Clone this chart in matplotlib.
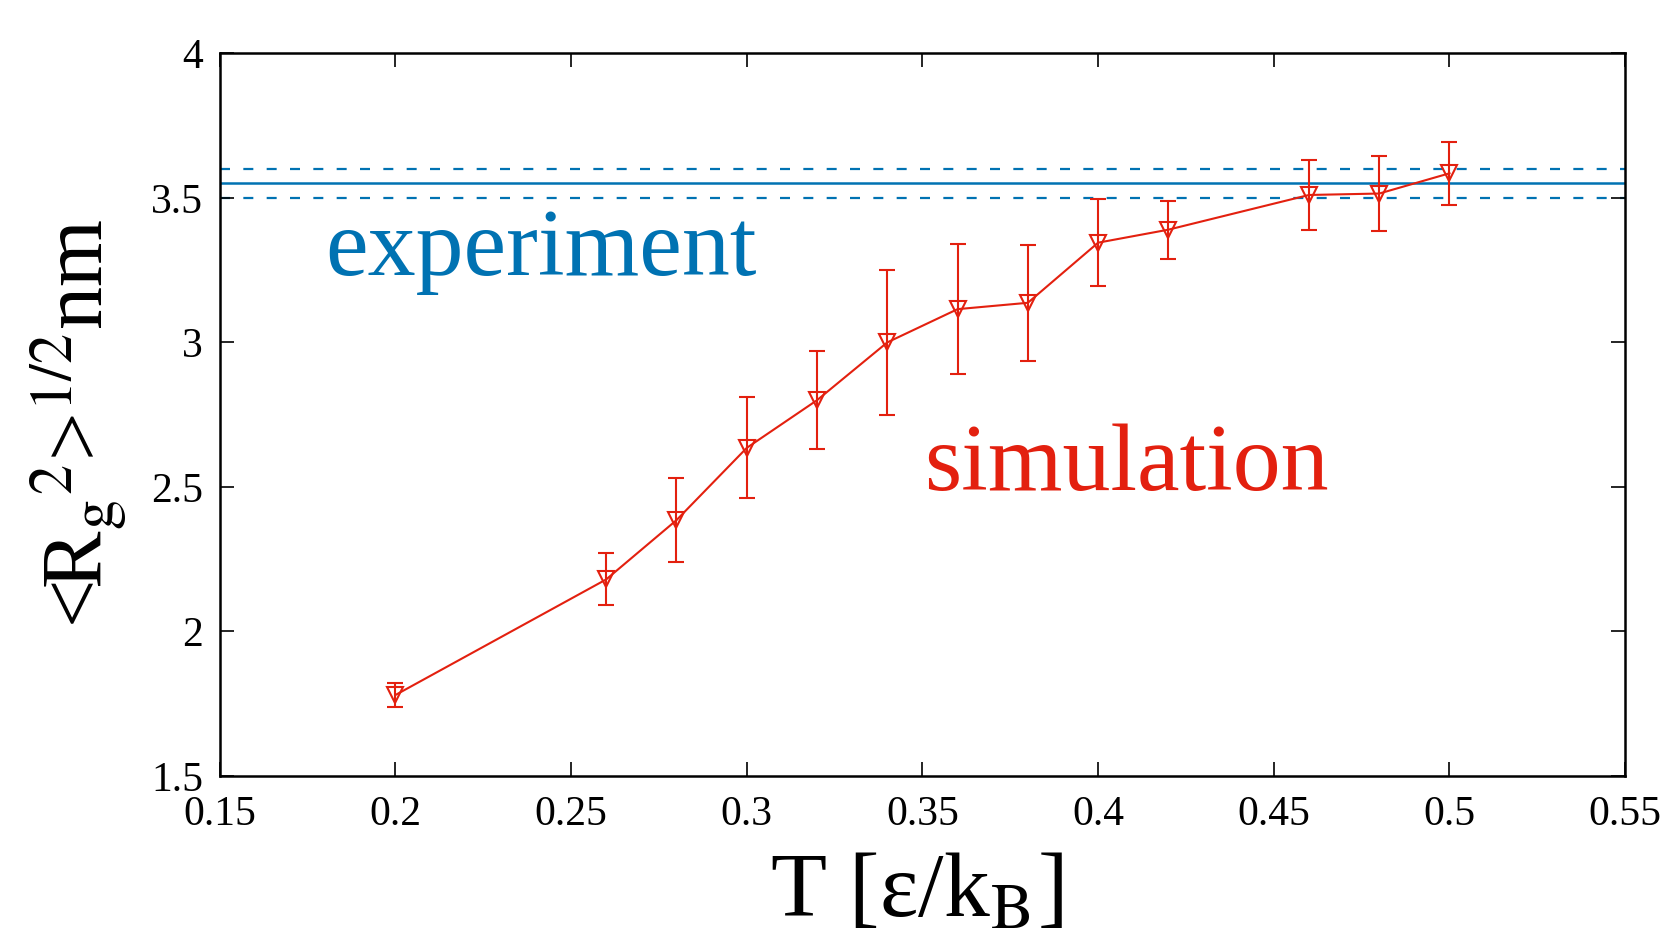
import matplotlib
matplotlib.use("Agg")
import matplotlib.pyplot as plt
from matplotlib.ticker import FixedLocator, FixedFormatter

# radius of gyration vs temperature, simulation against experiment
TEMPS = [0.20, 0.26, 0.28, 0.30, 0.32, 0.34, 0.36, 0.38, 0.40, 0.42, 0.46, 0.48, 0.50]
RG = [1.78, 2.18, 2.385, 2.635, 2.80, 3.00, 3.115, 3.137, 3.345, 3.39, 3.51, 3.515, 3.585]
RG_ERR = [0.04, 0.09, 0.145, 0.175, 0.17, 0.25, 0.225, 0.20, 0.15, 0.10, 0.12, 0.13, 0.11]
EXP_RG, EXP_ERR = 3.55, 0.05

XTICKS = [0.15, 0.2, 0.25, 0.3, 0.35, 0.4, 0.45, 0.5, 0.55]
XLABELS = ["0.15", "0.2", "0.25", "0.3", "0.35", "0.4", "0.45", "0.5", "0.55"]
YTICKS = [1.5, 2, 2.5, 3, 3.5, 4]
YLABELS = ["1.5", "2", "2.5", "3", "3.5", "4"]

RED = "#E3200F"
BLUE = "#0072B2"

plt.rcParams["font.family"] = ["Liberation Serif", "DejaVu Serif"]
plt.rcParams["mathtext.fontset"] = "stix"

fig = plt.figure(figsize=(16.72, 9.36), dpi=100)
ax = fig.add_axes([0.1314, 0.171, 0.8406, 0.772])

ax.axhline(EXP_RG, color=BLUE, lw=1.8, zorder=1)
for off in (-EXP_ERR, EXP_ERR):
    ax.axhline(EXP_RG + off, color=BLUE, lw=1.6, ls=(0, (4.5, 6)), zorder=1)

ax.errorbar(TEMPS, RG, yerr=RG_ERR, color=RED, lw=1.5, elinewidth=1.5,
            capsize=5.5, capthick=1.5, marker="v", markersize=12,
            markerfacecolor="none", markeredgecolor=RED, markeredgewidth=1.5,
            zorder=3)

ax.text(0.18, 3.232, "experiment", color=BLUE, fontsize=69)
ax.text(0.3504, 2.489, "simulation", color=RED, fontsize=69)

ax.set_xlim(0.15, 0.55)
ax.set_ylim(1.5, 4)
ax.xaxis.set_major_locator(FixedLocator(XTICKS))
ax.xaxis.set_major_formatter(FixedFormatter(XLABELS))
ax.yaxis.set_major_locator(FixedLocator(YTICKS))
ax.yaxis.set_major_formatter(FixedFormatter(YLABELS))
ax.tick_params(direction="in", length=10, width=1.2, labelsize=30,
               top=True, right=True)
ax.tick_params(axis="x", pad=14)
ax.tick_params(axis="y", pad=12)
for sp in ax.spines.values():
    sp.set_linewidth(1.8)

ax.set_xlabel(r"T [ε/k$_\mathrm{B}$]", fontsize=66)
ax.xaxis.set_label_coords(0.496, -0.107)
ax.set_ylabel(r"<R$_\mathrm{g}$$^{2}$>$^{1/2}$nm", fontsize=62)
ax.yaxis.set_label_coords(-0.064, 0.488)

fig.savefig("out.png", dpi=100)
